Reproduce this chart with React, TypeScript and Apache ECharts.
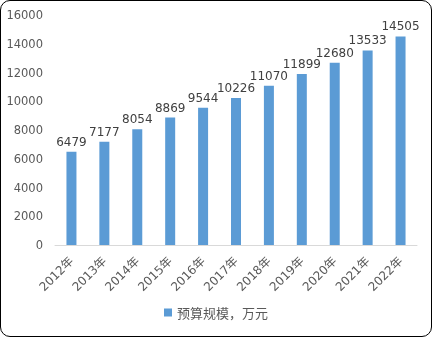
import React, { useEffect, useRef } from "react";
import * as echarts from "echarts";

const categories = ["2012年", "2013年", "2014年", "2015年", "2016年", "2017年", "2018年", "2019年", "2020年", "2021年", "2022年"];
const values = [6479, 7177, 8054, 8869, 9544, 10226, 11070, 11899, 12680, 13533, 14505];
const seriesName = "预算规模，万元";

export default function App() {
  const ref = useRef<HTMLDivElement>(null);
  useEffect(() => {
    document.body.style.margin = "0";
    const chart = echarts.init(ref.current!, null, { renderer: "svg" });
    const font = "'DejaVu Sans', 'Noto Sans CJK SC', sans-serif";
    chart.setOption({
      animation: false,
      grid: { left: 55, right: 15, top: 15, bottom: 92, containLabel: false },
      legend: {
        bottom: 13,
        left: "center",
        itemWidth: 8,
        itemHeight: 8,
        itemGap: 4,
        icon: "rect",
        textStyle: { color: "#595959", fontSize: 13, fontFamily: "'Noto Sans CJK SC', sans-serif" },
        data: [seriesName],
      },
      xAxis: {
        type: "category",
        data: categories,
        axisLine: { lineStyle: { color: "#D9D9D9", width: 1 } },
        axisTick: { show: false },
        axisLabel: { rotate: 45, color: "#595959", fontSize: 12, fontFamily: font, margin: 14, interval: 0 },
      },
      yAxis: {
        type: "value",
        min: 0,
        max: 16000,
        interval: 2000,
        splitLine: { show: false },
        axisLine: { show: false },
        axisTick: { show: false },
        axisLabel: { color: "#595959", fontSize: 11.5, fontFamily: font, margin: 12, formatter: (v: number) => String(v) },
      },
      series: [
        {
          name: seriesName,
          type: "bar",
          data: values,
          barWidth: 10,
          itemStyle: { color: "#5B9BD5" },
          label: { show: true, position: "top", distance: 4, color: "#404040", fontSize: 12, fontFamily: font },
        },
      ],
    });
    return () => chart.dispose();
  }, []);
  return (
    <div style={{ position: "fixed", left: 0, top: 0, width: 432, height: 337 }}>
      <div ref={ref} style={{ width: 432, height: 337 }} />
      <div
        style={{
          position: "absolute",
          left: 0,
          top: 0,
          width: 432,
          height: 337,
          boxSizing: "border-box",
          border: "1px solid #000",
          borderRadius: 10,
          pointerEvents: "none",
        }}
      />
    </div>
  );
}
